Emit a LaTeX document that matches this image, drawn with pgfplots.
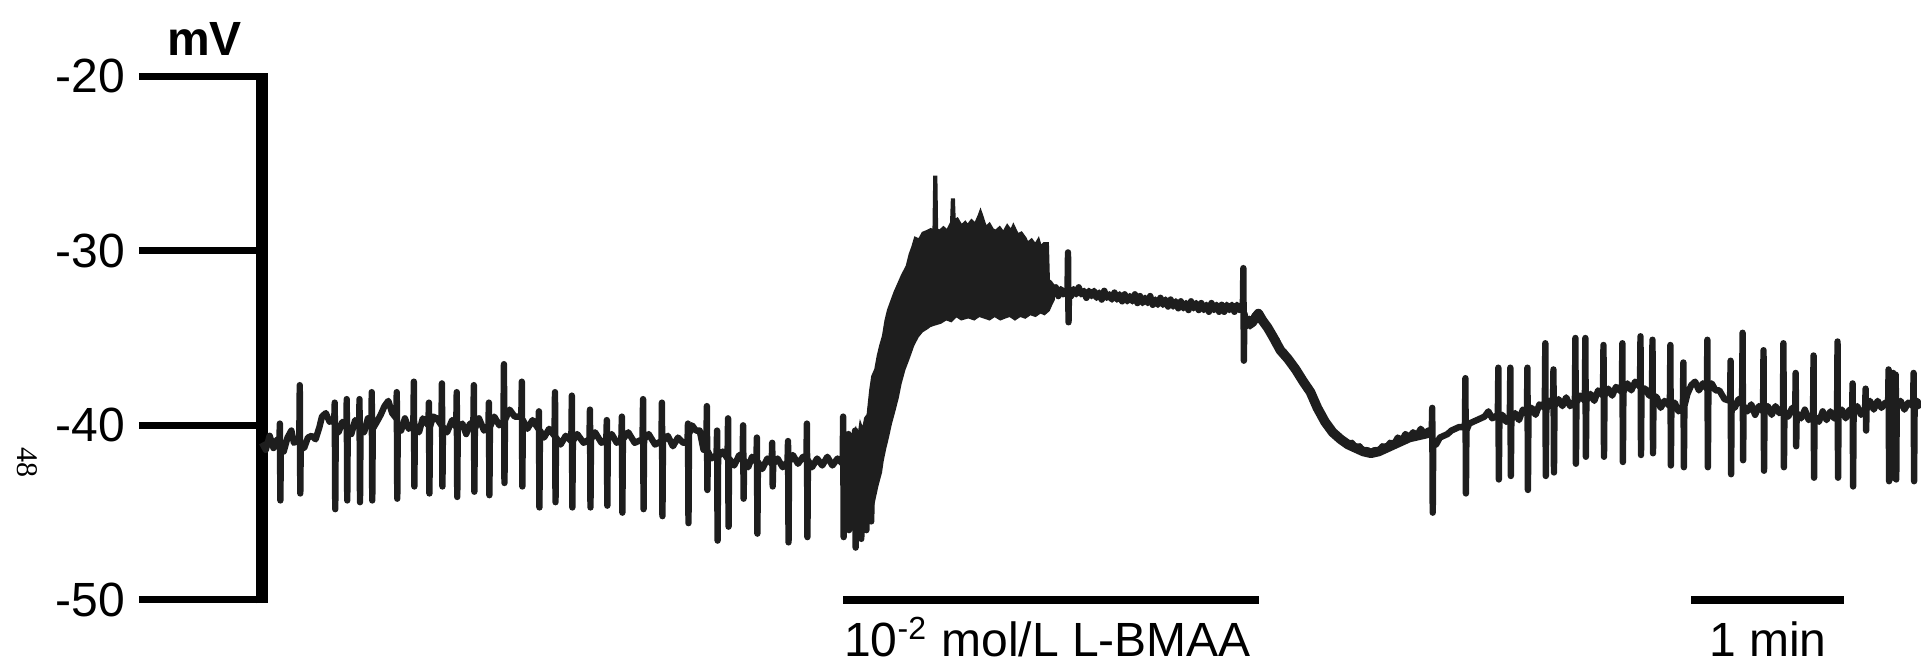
\documentclass[border=0pt]{standalone}
\usepackage{fontspec}
\setmainfont{Liberation Sans}
\newfontfamily\serifnum{Liberation Serif}
\usepackage{pgfplots}
\pgfplotsset{compat=1.18}
\usetikzlibrary{calc}
\definecolor{trace}{HTML}{1E1E1E}
\begin{document}
\begin{tikzpicture}
\begin{axis}[
  scale only axis, width=414.75pt, height=131pt,
  xmin=0, xmax=650, ymin=-50, ymax=-20,
  axis x line=none,
  axis y line*=left,
  ytick={-50,-40,-30,-20},
  yticklabels={-50,-40,-30,-20},
  tick align=outside,
  major tick length=30.75pt,
  y axis line style={line width=3pt, shorten <=-0.875pt, shorten >=-0.875pt},
  ytick style={line width=1.75pt, black},
  yticklabel style={font=\fontsize{12}{14}\selectfont, anchor=east},
  clip=false,
]
% dense oscillation band during L-BMAA
\addplot[fill=trace, draw=trace, line width=0.8pt] coordinates {
(228.5,-42.3) (229.5,-41.0) (230.5,-41.8) (231.5,-40.6) (232.5,-40.3) (233.5,-41.0) (234.5,-40.0) (235.5,-40.4) (236.5,-39.6) (237.5,-39.4) (238.5,-38.0) (239.3,-37.2) (240.5,-36.8) (241.5,-36.0) (242.5,-35.4) (243.5,-34.9) (244.5,-34.0) (245.5,-33.4) (246.5,-33.0) (248,-32.4) (249.5,-31.9) (251,-31.4) (252.8,-30.9) (254,-30.2) (255,-29.8) (256,-29.3) (257.5,-29.4) (259,-29.0) (260.7,-28.9) (262,-28.8) (263.3,-28.9) (263.6,-25.8) (264.0,-25.8) (264.3,-28.8) (265.5,-28.9) (267,-28.7) (268.5,-28.9) (270.2,-28.4) (270.5,-27.1) (270.9,-27.1) (271.2,-28.3) (272.4,-28.2) (274,-28.6) (275.5,-28.4) (276.4,-28.6) (278,-28.3) (279.5,-28.5) (281.0,-28.0) (281.5,-27.8) (282.2,-28.1) (283.5,-28.7) (285,-28.5) (286.2,-28.8) (287.5,-28.9) (289,-28.7) (290.5,-29.0) (292,-28.6) (293.5,-28.9) (294.4,-28.6) (296,-29.1) (297.5,-29.0) (299,-29.3) (299.9,-29.6) (301.5,-29.4) (303,-29.7) (304.2,-29.4) (305,-29.8) (306.5,-29.6) (307.7,-29.6) (308.1,-31.7) (309,-31.8) (310,-32.0)
(310,-32.8) (309,-33.1) (308.1,-33.4) (306.5,-33.6) (305,-33.5) (303,-33.7) (301,-33.6) (299,-33.8) (297,-33.7) (295,-33.9) (293,-33.7) (291,-33.8) (289.3,-33.9) (287,-33.7) (285,-33.9) (283,-33.8) (281,-33.7) (279,-33.9) (277,-33.8) (276.4,-33.8) (274,-33.9) (272,-33.7) (270,-34.0) (268,-33.9) (265.8,-34.1) (263.5,-34.2) (261.5,-34.3) (260.7,-34.4) (258.5,-34.6) (256.8,-34.9) (255,-35.4) (253.8,-35.9) (252.8,-36.3) (251.5,-36.8) (250,-37.6) (248.9,-38.4) (247.5,-39.2) (246.2,-39.9) (245,-40.7) (244,-41.3) (243,-42.0) (242.3,-42.7) (241,-43.4) (239.5,-44.4) (238,-44.2) (236.5,-44.5) (235,-44.3) (233.5,-44.6) (232,-44.3) (230.5,-44.4) (229.3,-44.0) (228.5,-42.6)
} -- cycle;
% membrane potential trace
\addplot[trace, line width=1.6pt, line join=round] coordinates {
(0,-41.0) (1.5,-41.4) (3,-40.6) (4.5,-41.3) (6,-40.8)
(6.8,-41.0) (7.0,-39.9) (7.2,-44.3) (7.4,-41.1)
(8.5,-41.5) (10,-40.7) (11.5,-40.3) (12.5,-41.0) (13.5,-40.9)
(14.6,-40.9) (14.8,-37.7) (15.0,-43.9) (15.2,-41.0)
(16.5,-41.3) (18,-40.7) (19.5,-40.6) (21,-40.8) (22.5,-40.1) (23.5,-39.5) (25,-39.3) (26.5,-39.8) (27.5,-39.7)
(28.3,-39.8) (28.5,-38.7) (28.7,-44.8) (28.9,-40.2)
(30,-40.4) (31.5,-39.8) (32.9,-40.1)
(33.1,-40.0) (33.2,-38.5) (33.4,-44.3) (33.6,-40.1)
(35,-40.5) (36.5,-39.7) (38.1,-40.1)
(38.2,-38.5) (38.4,-44.4) (38.6,-40.2)
(40,-40.4) (41.5,-39.6) (42.9,-40.0)
(43.0,-38.1) (43.2,-44.3) (43.4,-40.2)
(45,-39.8) (46.5,-39.4) (48,-38.9) (49.5,-38.6) (51,-39.3) (52.6,-39.6)
(52.8,-38.1) (53.0,-44.2) (53.2,-39.9)
(54.5,-40.3) (56,-39.6) (57.5,-40.2) (59.3,-39.9)
(59.5,-37.5) (59.7,-43.5) (59.9,-40.0)
(61.5,-40.4) (63,-39.6) (65.2,-40.0)
(65.4,-38.7) (65.6,-43.9) (65.8,-40.1)
(67,-39.5) (68.5,-39.6) (70.3,-40.0)
(70.5,-37.6) (70.7,-43.5) (70.9,-40.1)
(72.5,-40.4) (74.5,-39.7) (76.1,-40.1)
(76.3,-38.1) (76.5,-44.1) (76.7,-40.2)
(78.5,-39.9) (80,-40.5) (81.5,-39.9) (82.8,-40.1)
(83.0,-37.7) (83.2,-43.8) (83.4,-40.2)
(85,-39.6) (87,-40.3) (88.7,-40.1)
(88.9,-38.7) (89.1,-44.0) (89.3,-40.1)
(91,-39.5) (93,-40.0) (94.6,-39.8)
(94.8,-36.5) (95.0,-43.3) (95.2,-39.7)
(97,-39.1) (99,-39.5) (101.6,-39.5)
(101.8,-37.5) (102.0,-43.5) (102.2,-39.7)
(104,-40.2) (106,-39.7) (108.3,-40.2)
(108.5,-39.2) (108.7,-44.7) (108.9,-40.3)
(110.5,-40.7) (112.5,-40.2) (114.6,-40.6)
(114.8,-38.1) (115.0,-44.4) (115.2,-40.7)
(117,-41.1) (119,-40.6) (121.2,-40.9)
(121.4,-38.3) (121.6,-44.7) (121.8,-40.9)
(123.5,-40.5) (126,-41.0) (128.3,-40.8)
(128.5,-39.1) (128.7,-44.7) (128.9,-40.8)
(130.5,-40.4) (133,-41.0) (134.9,-40.8)
(135.1,-39.7) (135.3,-44.6) (135.5,-40.8)
(137,-40.5) (139,-41.0) (140.8,-40.8)
(141.0,-39.5) (141.2,-45.0) (141.4,-40.8)
(143.5,-40.4) (146,-41.0) (149.1,-40.8)
(149.3,-38.5) (149.5,-44.8) (149.7,-40.8)
(151.5,-40.5) (154,-41.1) (156.5,-40.9)
(156.7,-38.7) (156.9,-45.2) (157.1,-40.9)
(159,-40.6) (161,-41.2) (163,-40.7) (165,-41.0) (166.7,-41.0)
(166.9,-39.9) (167.1,-45.6) (167.3,-40.5)
(168.5,-40.0) (170,-40.3) (171.5,-40.3) (173,-41.4) (174.1,-41.4)
(174.3,-38.9) (174.5,-43.7) (174.7,-41.5)
(176,-41.9) (178.1,-41.7)
(178.3,-40.3) (178.5,-46.6) (178.7,-41.8)
(180.5,-41.5) (182.4,-41.9)
(182.6,-39.6) (182.8,-45.8) (183.0,-41.9)
(185,-42.3) (187,-41.7) (188.3,-42.0)
(188.5,-40.0) (188.7,-44.2) (188.9,-42.0)
(190.5,-42.4) (192,-41.8) (193.7,-42.1)
(193.9,-40.7) (194.1,-46.2) (194.3,-42.1)
(196,-42.5) (198,-41.9) (199.7,-42.2)
(199.9,-41.0) (200.1,-43.5) (200.3,-42.2)
(202,-41.9) (204,-42.4) (205.9,-42.1)
(206.1,-40.9) (206.3,-46.7) (206.5,-42.1)
(208,-41.7) (210,-42.2) (212,-41.8) (213.3,-42.0)
(213.5,-39.9) (213.7,-46.4) (213.9,-42.0)
(215.5,-42.4) (217.5,-41.9) (219.5,-42.3) (221.5,-41.8) (223.5,-42.3) (225.5,-41.9) (227.5,-42.2)
(227.7,-39.5) (227.9,-46.4) (228.1,-42.4)
(229.5,-42.0) (229.8,-40.5) (230.0,-46.0) (230.3,-42.5)
(231.5,-41.8) (232.4,-40.3) (232.6,-47.0) (232.9,-42.5)
(234,-41.5) (234.6,-41.0) (234.8,-46.5) (235.1,-42.0)
(236.0,-41.0) (236.6,-40.0) (236.8,-46.0) (237.1,-41.5)
(238,-40.0) (238.5,-39.0) (238.7,-45.5) (239.0,-40.5)
(240,-40.0) (242,-38.5) (244,-37.0) (246,-36.0) (248,-35.0) (250,-34.0) (253,-33.0) (256,-32.0) (260,-31.5) (270,-31.2) (280,-31.0) (290,-31.2) (300,-31.5) (306,-31.7) (308,-32.0) (310,-32.4)
(311,-32.1) (312,-32.6) (313,-32.2) (314,-32.5) (315.6,-32.3) (315.8,-30.1) (316.0,-34.1) (316.2,-32.3) (317,-32.6) (318,-32.2) (319,-32.5) (320,-32.1) (321,-32.5) (322,-32.3) (323,-32.7) (324,-32.3) (325,-32.6) (326,-32.3) (327,-32.7) (328,-32.4) (329,-32.8) (330,-32.3) (331,-32.7) (332,-32.5) (333,-32.8) (334,-32.4) (335,-32.8) (336,-32.5) (337,-32.9) (338,-32.5) (339,-32.9) (340,-32.6) (341,-32.9) (342,-32.5) (343,-33.0) (344,-32.6) (345,-33.0) (346,-32.7) (347,-33.0) (348,-32.6) (349,-33.1) (350,-32.8) (351,-33.1) (352,-32.7) (353,-33.1) (354,-32.8) (355,-33.2) (356,-32.8) (357,-33.2) (358,-32.9) (359,-33.3) (360,-32.9) (361,-33.3) (362,-33.0) (363,-33.4) (364,-32.9) (365,-33.3) (366,-33.0) (367,-33.4) (368,-33.0) (369,-33.4) (370,-33.1) (371,-33.5) (372,-33.0) (373,-33.4) (374,-33.1) (375,-33.5) (376,-33.1) (377,-33.5) (378,-33.1) (379,-33.4) (380,-33.1) (381,-33.5) (382,-33.1) (383,-33.4) (384.3,-33.2) (384.5,-31.0) (384.7,-36.3) (384.9,-33.6)
(386,-34.3) (387,-33.9) (388,-34.1) (389,-33.7) (390.4,-33.6) (392,-34.0) (394,-34.4) (396,-34.9) (397.5,-35.1) (399,-35.7) (400.5,-35.8) (402,-36.2) (403.5,-36.4) (405,-36.8) (406.5,-37.2) (408,-37.5) (409.5,-37.7) (410.8,-38.1) (412,-38.5) (413.5,-39.0) (415,-39.3) (416.5,-39.8) (418,-40.0) (419.5,-40.4) (421,-40.5) (422.6,-40.8) (424,-40.9) (425.5,-41.1) (427,-41.0) (428.5,-41.3) (430,-41.2) (431.5,-41.5) (433,-41.4) (434.5,-41.6) (436,-41.4) (437.5,-41.5) (439,-41.2) (440.5,-41.3) (442,-41.0) (443.5,-41.1) (445,-40.7) (446.5,-40.9) (448,-40.5) (449.5,-40.7) (451,-40.4) (452.5,-40.6) (454,-40.2) (455.5,-40.5) (457,-40.3) (458.3,-40.4)
(458.5,-39.0) (458.7,-45.0) (458.9,-41.0) (460,-41.1) (461.5,-40.7) (463,-40.6) (464.5,-40.5) (466,-40.3) (467.5,-40.2) (469,-40.1) (471.3,-40.1)
(471.5,-37.3) (471.7,-43.9) (471.9,-40.3) (473,-39.9) (474.5,-39.8) (476,-39.7) (477.5,-39.6) (479,-39.5) (480.5,-39.2) (482,-39.6) (484.2,-39.4)
(484.4,-36.7) (484.6,-43.1) (484.8,-39.8) (486,-39.4) (487.5,-39.8) (488.9,-39.5)
(489.1,-36.7) (489.3,-42.9) (489.5,-39.7) (491,-39.3) (492.5,-39.7) (494,-39.1) (495.6,-39.3)
(495.8,-36.7) (496.0,-43.7) (496.2,-39.4) (497.5,-39.0) (499,-39.4) (500.5,-38.8) (502.6,-39.0)
(502.8,-35.3) (503.0,-42.9) (503.2,-39.1) (504.5,-38.6) (505.8,-38.9)
(506.0,-36.8) (506.2,-42.7) (506.4,-38.9) (508,-38.5) (509.5,-38.9) (511,-38.4) (512.5,-38.9) (514.4,-38.6)
(514.6,-35.0) (514.8,-42.2) (515.0,-38.7) (516.5,-38.3) (518.3,-38.6)
(518.5,-35.0) (518.7,-41.8) (518.9,-38.6) (520.5,-38.2) (522,-38.6) (523.5,-38.0) (525.4,-38.3)
(525.6,-35.4) (525.8,-41.8) (526.0,-38.3) (527.5,-37.9) (529,-38.3) (530.5,-37.8) (532.8,-38.1)
(533.0,-35.3) (533.2,-42.1) (533.4,-38.1) (535,-37.6) (536.5,-38.0) (538,-37.5) (539.9,-37.8)
(540.1,-34.9) (540.3,-41.7) (540.5,-37.9) (542,-37.9) (543.5,-38.3) (544.6,-38.1)
(544.8,-35.1) (545.0,-41.6) (545.2,-38.3) (546.5,-38.4) (548,-39.0) (549.5,-38.6) (551.6,-38.9)
(551.8,-35.4) (552.0,-42.3) (552.2,-39.0) (553.5,-38.7) (555,-39.2) (556.7,-38.9)
(556.9,-36.4) (557.1,-42.4) (557.3,-38.9) (558.5,-38.2) (560,-37.7) (561.5,-37.5) (563,-38.0) (564.5,-37.6) (566.1,-37.9)
(566.3,-35.1) (566.5,-42.4) (566.7,-38.0) (568,-37.6) (569.5,-38.0) (571,-38.0) (573,-38.5) (575.2,-38.6)
(575.4,-36.3) (575.6,-42.8) (575.8,-38.7) (577,-39.0) (578.5,-38.5) (579.9,-38.8)
(580.1,-34.7) (580.3,-42.0) (580.5,-38.9) (582,-39.2) (583.5,-38.8) (585,-39.4) (586.5,-38.9) (588.1,-39.2)
(588.3,-35.7) (588.5,-42.6) (588.7,-39.3) (590,-38.9) (591.5,-39.4) (593,-38.9) (594.5,-39.3) (595.9,-39.1)
(596.1,-35.3) (596.3,-42.4) (596.5,-39.2) (598,-39.5) (599.5,-39.0) (600.7,-39.3)
(600.9,-37.0) (601.1,-41.2) (601.3,-39.3) (603,-39.6) (604.5,-39.1) (606,-39.7) (607.7,-39.4)
(607.9,-36.0) (608.1,-43.0) (608.3,-39.5) (610,-39.8) (611.5,-39.2) (613,-39.7) (614.5,-39.2) (616,-39.6) (617.1,-39.4)
(617.3,-35.2) (617.5,-43.0) (617.7,-39.4) (619,-39.1) (620.5,-39.6) (622,-39.1) (623.0,-39.3)
(623.2,-37.6) (623.4,-43.5) (623.6,-39.2) (625,-38.9) (626.5,-39.4) (628.1,-39.0)
(628.3,-37.9) (628.5,-40.3) (628.7,-38.9) (630,-38.6) (631.5,-39.1) (633,-38.6) (634.5,-39.0) (636,-38.7) (637.1,-38.9)
(637.3,-36.8) (637.5,-43.2) (637.7,-39.0) (638.9,-38.9)
(639.1,-37.0) (639.3,-43.0) (639.6,-39.0) (640.1,-37.1) (640.3,-43.1) (640.5,-39.0) (642,-38.6) (643.5,-39.1) (645,-38.7) (646.9,-38.9)
(647.1,-37.0) (647.3,-43.2) (647.5,-38.9) (648.5,-38.6) (650,-39.0)
};
% thicker repolarisation segment
\addplot[trace, line width=2.4pt, line join=round] coordinates {
(386,-34.3) (388,-34.1) (390.4,-33.6) (392,-34.0) (394,-34.4) (396,-34.9) (399,-35.7) (402,-36.2) (405,-36.8) (408,-37.5) (410.8,-38.1) (413.5,-39.0) (416.5,-39.8) (419.5,-40.4) (422.6,-40.8) (425.5,-41.1) (428.5,-41.3) (431.5,-41.5) (434.5,-41.6) (437.5,-41.5) (440.5,-41.3) (443.5,-41.1) (446.5,-40.9) (449.5,-40.7) (452.5,-40.6) (455.5,-40.5) (458.3,-40.4)
};
% drug application bar and time scale bar
\addplot[black, line width=2.1pt] coordinates {(227.8,-50) (390.8,-50)};
\addplot[black, line width=2.1pt] coordinates {(560,-50) (620,-50)};
\node[anchor=base west, inner sep=0, yshift=-14.25pt, font=\fontsize{12}{14}\selectfont] at (axis cs:227.8,-50) {10\textsuperscript{-2} mol/L L-BMAA};
\node[anchor=base, inner sep=0, yshift=-14.25pt, font=\fontsize{12}{14}\selectfont] at (axis cs:590,-50) {1 min};
\node[anchor=base, inner sep=0, font=\fontsize{12}{14}\selectfont\bfseries] at ($(rel axis cs:0,1)+(-14.4pt,5.25pt)$) {mV};
\node[rotate=-90, inner sep=0, font=\fontsize{7.5}{9}\serifnum] at ($(rel axis cs:0,0)+(-58.75pt,34.25pt)$) {48};
\coordinate (O) at (rel axis cs:0,0);
\end{axis}
\pgfresetboundingbox
\path[use as bounding box] (O) ++(-65.5pt,-16pt) rectangle ++(480.25pt,166pt);
\end{tikzpicture}
\end{document}
